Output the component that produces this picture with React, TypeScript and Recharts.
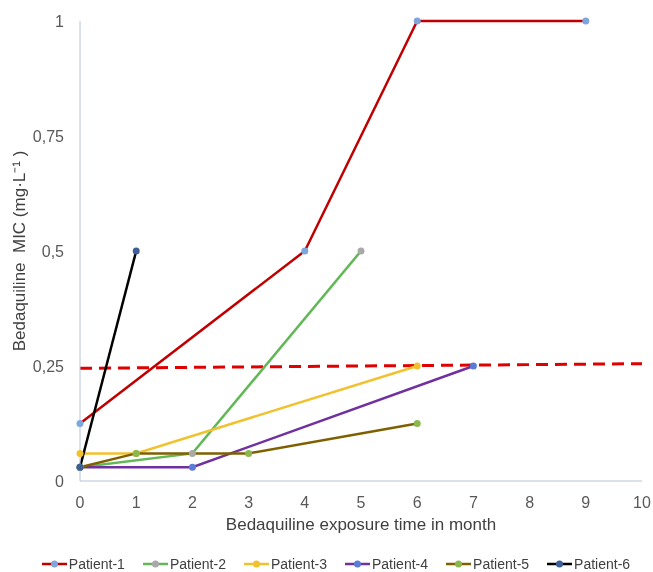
import { LineChart, Line, XAxis, YAxis, Legend, Label } from 'recharts';

const months = [0, 1, 2, 3, 4, 5, 6, 7, 8, 9, 10];
const micTicks = [0, 0.25, 0.5, 0.75, 1];

const p1x = [0, 4, 6, 9];
const p1y = [0.125, 0.5, 1, 1];
const p2x = [0, 2, 5];
const p2y = [0.03, 0.06, 0.5];
const p3x = [0, 1, 6];
const p3y = [0.06, 0.06, 0.25];
const p4x = [0, 2, 7];
const p4y = [0.03, 0.03, 0.25];
const p5x = [0, 1, 3, 6];
const p5y = [0.03, 0.06, 0.06, 0.125];
const p6x = [0, 1];
const p6y = [0.03, 0.5];
const breakpointX = [0, 10];
const breakpointY = [0.245, 0.255];

const zip = (xs: number[], ys: number[]) => xs.map((x, i) => ({ x, y: ys[i] }));

const patients = [
  { name: 'Patient-1', data: zip(p1x, p1y), line: '#c00000', dot: '#7ea6de' },
  { name: 'Patient-2', data: zip(p2x, p2y), line: '#62b857', dot: '#a9a9a9' },
  { name: 'Patient-3', data: zip(p3x, p3y), line: '#f2c12e', dot: '#f2c12e' },
  { name: 'Patient-4', data: zip(p4x, p4y), line: '#7030a0', dot: '#5b7bd5' },
  { name: 'Patient-5', data: zip(p5x, p5y), line: '#7f6000', dot: '#8ab84f' },
  { name: 'Patient-6', data: zip(p6x, p6y), line: '#000000', dot: '#3e5f96' },
];

const font = '"Liberation Sans", Arial, sans-serif';
const tickStyle = { fill: '#595959', fontSize: 16, fontFamily: font };
const axisColor = '#b4c4dc';

function LegendRow() {
  return (
    <div style={{ display: 'flex', justifyContent: 'center', gap: 18, fontFamily: font, fontSize: 14, color: '#404040', lineHeight: '16px' }}>
      {patients.map((p) => (
        <div key={p.name} style={{ display: 'flex', alignItems: 'center' }}>
          <svg width={25} height={10}>
            <line x1={0} y1={5} x2={25} y2={5} stroke={p.line} strokeWidth={2.5} />
            <circle cx={12.5} cy={5} r={3.5} fill={p.dot} />
          </svg>
          <span style={{ marginLeft: 2 }}>{p.name}</span>
        </div>
      ))}
    </div>
  );
}

function YTitle(props: any) {
  const vb = props.viewBox || { x: 0, y: 0, height: 0 };
  const cy = vb.y + vb.height / 2;
  return (
    <text
      x={19}
      y={cy}
      transform={`rotate(-90, 19, ${cy})`}
      textAnchor="middle"
      dominantBaseline="central"
      fill="#404040"
      fontSize={17}
      fontFamily={font}
      style={{ whiteSpace: 'pre' }}
    >
      Bedaquiline  MIC (mg·L⁻¹ )
    </text>
  );
}

export default function App() {
  return (
    <div style={{ position: 'fixed', left: 0, top: 0 }}>
      <LineChart width={653} height={572} margin={{ top: 21, right: 11, bottom: 0, left: 30 }}>
        <XAxis
          type="number"
          dataKey="x"
          domain={[0, 10]}
          ticks={months}
          stroke={axisColor}
          tickLine={false}
          tick={tickStyle}
          tickMargin={10}
          height={75}
        >
          <Label value="Bedaquiline exposure time in month" position="insideTop" offset={37} style={{ fill: '#404040', fontSize: 17, fontFamily: font }} />
        </XAxis>
        <YAxis
          type="number"
          dataKey="y"
          domain={[0, 1]}
          ticks={micTicks}
          stroke={axisColor}
          tickLine={false}
          tick={tickStyle}
          tickMargin={10}
          width={50}
          tickFormatter={(v: number) => String(v).replace('.', ',')}
        >
          <Label content={YTitle} />
        </YAxis>
        <Legend verticalAlign="bottom" height={16} content={() => <LegendRow />} />
        <Line
          data={zip(breakpointX, breakpointY)}
          dataKey="y"
          stroke="#e00000"
          strokeWidth={3}
          strokeDasharray="12 7"
          dot={false}
          legendType="none"
          isAnimationActive={false}
        />
        {patients.map((p) => (
          <Line
            key={p.name}
            data={p.data}
            dataKey="y"
            name={p.name}
            stroke={p.line}
            strokeWidth={2.5}
            dot={{ r: 3.5, fill: p.dot, stroke: p.dot, strokeWidth: 0 }}
            activeDot={false}
            isAnimationActive={false}
          />
        ))}
      </LineChart>
    </div>
  );
}
